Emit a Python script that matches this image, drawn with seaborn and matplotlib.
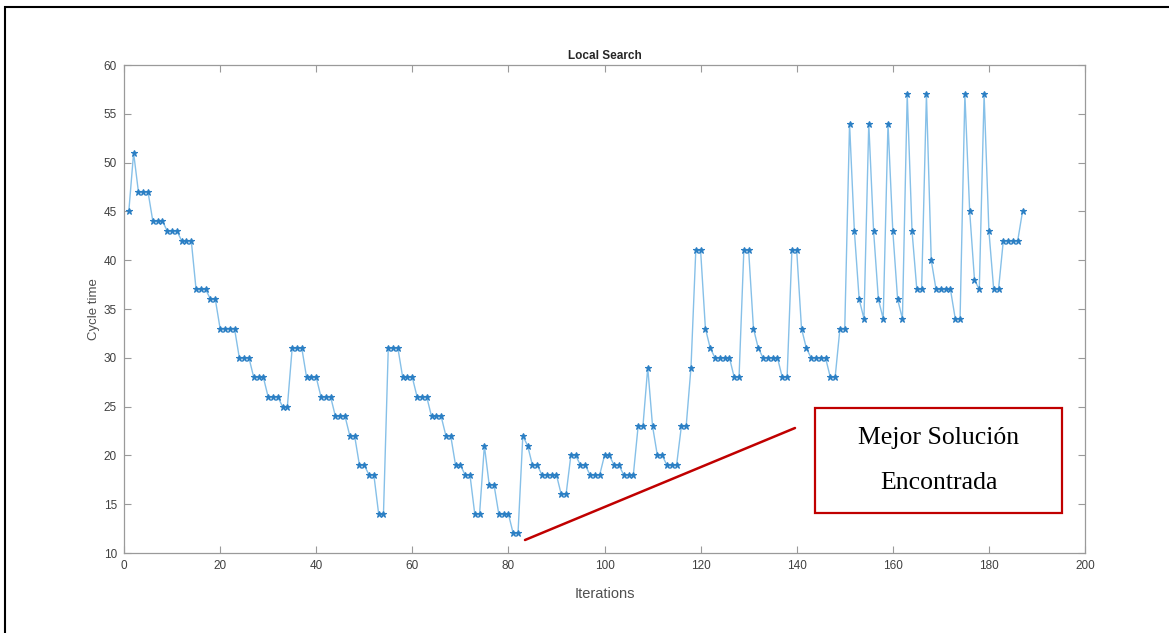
import matplotlib
matplotlib.use("Agg")
import matplotlib.pyplot as plt
import seaborn as sns
import pandas as pd
from matplotlib.lines import Line2D
from matplotlib.patches import Rectangle

cycle_time = [
    45, 51, 47, 47, 47, 44, 44, 44, 43, 43, 43, 42, 42, 42, 37, 37, 37, 36, 36,
    33, 33, 33, 33, 30, 30, 30, 28, 28, 28, 26, 26, 26, 25, 25, 31, 31, 31,
    28, 28, 28, 26, 26, 26, 24, 24, 24, 22, 22, 19, 19, 18, 18, 14, 14,
    31, 31, 31, 28, 28, 28, 26, 26, 26, 24, 24, 24, 22, 22, 19, 19, 18, 18,
    14, 14, 21, 17, 17, 14, 14, 14, 12, 12, 22, 21, 19, 19, 18, 18, 18, 18,
    16, 16, 20, 20, 19, 19, 18, 18, 18, 20, 20, 19, 19, 18, 18, 18, 23, 23,
    29, 23, 20, 20, 19, 19, 19, 23, 23, 29, 41, 41, 33, 31, 30, 30, 30, 30,
    28, 28, 41, 41, 33, 31, 30, 30, 30, 30, 28, 28, 41, 41, 33, 31, 30, 30,
    30, 30, 28, 28, 33, 33, 54, 43, 36, 34, 54, 43, 36, 34, 54, 43, 36, 34,
    57, 43, 37, 37, 57, 40, 37, 37, 37, 37, 34, 34, 57, 45, 38, 37, 57, 43,
    37, 37, 42, 42, 42, 42, 45,
]
iterations = list(range(1, len(cycle_time) + 1))
x_ticks = [0, 20, 40, 60, 80, 100, 120, 140, 160, 180, 200]
y_ticks = [10, 15, 20, 25, 30, 35, 40, 45, 50, 55, 60]
title = "Local Search"
x_label = "Iterations"
y_label = "Cycle time"
note_lines = ["Mejor Solución", "Encontrada"]

df = pd.DataFrame({"Iterations": iterations, "Cycle time": cycle_time})

sns.set_theme(style="ticks")
plt.rcParams["font.family"] = ["Liberation Sans", "DejaVu Sans"]

fig = plt.figure(figsize=(11.69, 6.33), dpi=100)
ax = fig.add_axes([124 / 1169, 1 - 553 / 633, (1085 - 124) / 1169, (553 - 65) / 633])

sns.lineplot(data=df, x="Iterations", y="Cycle time", ax=ax,
             color="#86c0e8", linewidth=1.0, marker="*", markersize=5,
             markerfacecolor="#2b7fc4", markeredgecolor="#2b7fc4",
             markeredgewidth=0.8)

ax.set_xlim(0, 200)
ax.set_ylim(10, 60)
ax.set_xticks(x_ticks)
ax.set_yticks(y_ticks)
ax.tick_params(direction="in", length=5, width=0.8, color="#9a9a9a",
               labelsize=8.5, labelcolor="#404040", top=True, right=True, pad=5)
for sp in ax.spines.values():
    sp.set_visible(True)
    sp.set_color("#9a9a9a")
    sp.set_linewidth(0.9)

ax.set_title(title, fontsize=8.5, fontweight="bold", color="#262626", pad=4)
ax.set_xlabel(x_label, fontsize=10.5, color="#505050", labelpad=11)
ax.set_ylabel(y_label, fontsize=9.5, color="#505050", labelpad=3)

# outer black frame (extends past the right and bottom edges)
fig.add_artist(Rectangle((5 / 1169, -0.1), 1.2, 1 - 7 / 633 + 0.1,
                         transform=fig.transFigure, fill=False,
                         edgecolor="black", linewidth=1.5))

# annotation: red line and box
red = "#c00000"
fig.add_artist(Line2D([525 / 1169, 795 / 1169], [1 - 540 / 633, 1 - 428 / 633],
                      transform=fig.transFigure, color=red, linewidth=1.8))
fig.add_artist(Rectangle((815 / 1169, 1 - 513 / 633), (1062 - 815) / 1169,
                         (513 - 408) / 633, transform=fig.transFigure,
                         fill=True, facecolor="white", edgecolor=red,
                         linewidth=1.6))
fig.text(939 / 1169, 1 - 438 / 633, note_lines[0], ha="center", va="center",
         fontsize=18.5, family=["Liberation Serif", "DejaVu Serif"], color="black")
fig.text(939 / 1169, 1 - 483 / 633, note_lines[1], ha="center", va="center",
         fontsize=18.5, family=["Liberation Serif", "DejaVu Serif"], color="black")

fig.savefig("out.png", dpi=100)
